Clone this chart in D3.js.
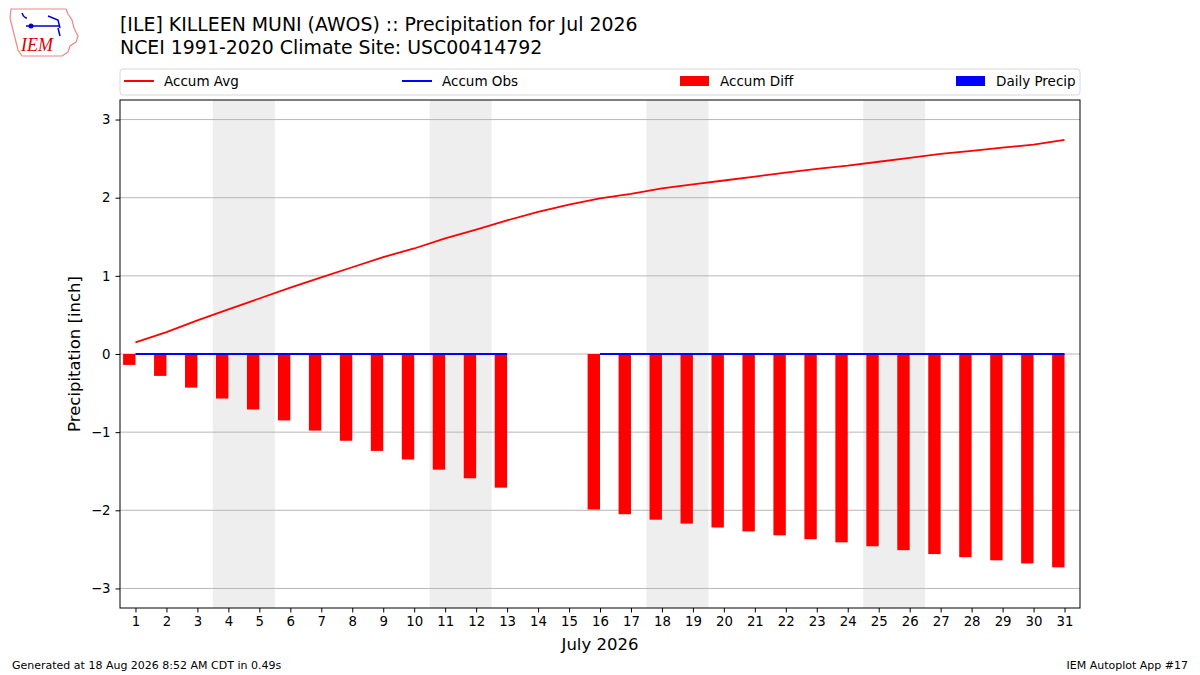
<!DOCTYPE html>
<html>
<head>
<meta charset="utf-8">
<script src="https://cdn.jsdelivr.net/npm/d3@7"></script>
<style>
  body { margin: 0; background: #fff; }
  svg { font-family: "DejaVu Sans", sans-serif; }
</style>
</head>
<body>
<svg id="chart" width="1200" height="675"></svg>
<script>
// days of July 2026
const days = d3.range(1, 32)
// accumulated climatology (inch)
const accumAvg = [0.15, 0.28, 0.43, 0.57, 0.71, 0.85, 0.98, 1.11, 1.24, 1.35,
  1.48, 1.59, 1.71, 1.82, 1.91, 1.99, 2.05, 2.12, 2.17, 2.22,
  2.27, 2.32, 2.37, 2.41, 2.46, 2.51, 2.56, 2.60, 2.64, 2.68, 2.74]
// accumulated observed (null = missing)
const accumObs = [0, 0, 0, 0, 0, 0, 0, 0, 0, 0, 0, 0, 0, null, null,
  0, 0, 0, 0, 0, 0, 0, 0, 0, 0, 0, 0, 0, 0, 0, 0]
// observed minus average
const accumDiff = [-0.14, -0.28, -0.43, -0.57, -0.71, -0.85, -0.98, -1.11, -1.24, -1.35,
  -1.48, -1.59, -1.71, null, null, -1.99, -2.05, -2.12, -2.17, -2.22,
  -2.27, -2.32, -2.37, -2.41, -2.46, -2.51, -2.56, -2.60, -2.64, -2.68, -2.73]
const dailyPrecip = [0, 0, 0, 0, 0, 0, 0, 0, 0, 0, 0, 0, 0, null, null,
  0, 0, 0, 0, 0, 0, 0, 0, 0, 0, 0, 0, 0, 0, 0, 0]
// weekend days (Sat/Sun) to shade
const weekendStarts = [4, 11, 18, 25]
const yTicks = [-3, -2, -1, 0, 1, 2, 3]

const svg = d3.select('#chart')
const m = { left: 120, right: 1080, top: 100, bottom: 608 }

const x = d3.scaleLinear().domain([0.5, 31.5]).range([m.left, m.right])
const y = d3.scaleLinear().domain([-3.25, 3.25]).range([m.bottom, m.top])

// title
svg.append('text').attr('x', 120).attr('y', 31)
  .attr('font-size', 18.9).text('[ILE] KILLEEN MUNI (AWOS) :: Precipitation for Jul 2026')
svg.append('text').attr('x', 120).attr('y', 54)
  .attr('font-size', 18.9).text('NCEI 1991-2020 Climate Site: USC00414792')

// logo (rough)
const logo = svg.append('g')
logo.append('path')
  .attr('d', 'M11,9 L66,9 L68,14 L72,20 L74,28 L78,36 L76,42 L70,46 L68,52 L62,56 L22,56 L18,50 L16,42 L14,34 L12,26 L10,18 Z')
  .attr('fill', 'none').attr('stroke', '#e88').attr('stroke-width', 1.2)
logo.append('path')
  .attr('d', 'M22,13 Q24,18 27,18 M26,26 L31,26 L60,26 M48,16 L58,20 L60,28 M58,28 L60,36')
  .attr('fill', 'none').attr('stroke', '#00c').attr('stroke-width', 1.5)
logo.append('circle').attr('cx', 31).attr('cy', 26).attr('r', 2.5).attr('fill', '#00c')
logo.append('text').attr('x', 21).attr('y', 51).attr('fill', '#d00')
  .attr('font-family', 'Liberation Serif, serif').attr('font-style', 'italic')
  .attr('font-size', 18).text('IEM')

// weekend shading
svg.append('g').selectAll('rect').data(weekendStarts).join('rect')
  .attr('x', d => x(d - 0.5)).attr('width', d => x(d + 1.5) - x(d - 0.5))
  .attr('y', m.top).attr('height', m.bottom - m.top)
  .attr('fill', '#eeeeee')

// gridlines
svg.append('g').selectAll('line').data(yTicks).join('line')
  .attr('x1', m.left).attr('x2', m.right)
  .attr('y1', d => y(d)).attr('y2', d => y(d))
  .attr('stroke', '#b0b0b0').attr('stroke-width', 0.9)

// diff bars (width 0.4 day, right edge on the day)
const barData = days.map((d, i) => ({ d, v: accumDiff[i] })).filter(o => o.v !== null)
svg.append('g').selectAll('rect').data(barData).join('rect')
  .attr('x', o => x(o.d - 0.4)).attr('width', o => x(o.d) - x(o.d - 0.4))
  .attr('y', o => y(Math.max(0, o.v))).attr('height', o => Math.abs(y(o.v) - y(0)))
  .attr('fill', 'red')

// daily precip bars
const dpData = days.map((d, i) => ({ d, v: dailyPrecip[i] })).filter(o => o.v !== null)
svg.append('g').selectAll('rect').data(dpData).join('rect')
  .attr('x', o => x(o.d)).attr('width', o => x(o.d + 0.4) - x(o.d))
  .attr('y', o => y(o.v)).attr('height', o => y(0) - y(o.v))
  .attr('fill', 'blue')

// accum avg line
const line = d3.line().defined(p => p[1] !== null).x(p => x(p[0])).y(p => y(p[1]))
svg.append('path').datum(days.map((d, i) => [d, accumAvg[i]]))
  .attr('d', line).attr('fill', 'none').attr('stroke', 'red').attr('stroke-width', 1.8)

// accum obs line
svg.append('path').datum(days.map((d, i) => [d, accumObs[i]]))
  .attr('d', line).attr('fill', 'none').attr('stroke', 'blue').attr('stroke-width', 2.2)

// axes
const fmt = d => (d < 0 ? '\u2212' + Math.abs(d) : String(d))
const yAxis = svg.append('g').attr('transform', `translate(${m.left},0)`)
  .call(d3.axisLeft(y).tickValues(yTicks).tickFormat(fmt).tickSize(4.5).tickPadding(5))
const xAxis = svg.append('g').attr('transform', `translate(0,${m.bottom})`)
  .call(d3.axisBottom(x).tickValues(days).tickFormat(d3.format('d')).tickSize(4.5).tickPadding(4))
for (const a of [yAxis, xAxis]) {
  a.select('.domain').remove()
  a.selectAll('text').attr('font-size', 13.3).attr('fill', '#000')
    .attr('font-family', 'DejaVu Sans, sans-serif')
  a.selectAll('line').attr('stroke', '#000').attr('stroke-width', 1)
}
svg.append('rect').attr('x', m.left).attr('y', m.top)
  .attr('width', m.right - m.left).attr('height', m.bottom - m.top)
  .attr('fill', 'none').attr('stroke', '#000').attr('stroke-width', 1)

// axis labels
svg.append('text').attr('transform', `translate(80,${(m.top + m.bottom) / 2}) rotate(-90)`)
  .attr('text-anchor', 'middle').attr('font-size', 16.5).text('Precipitation [inch]')
svg.append('text').attr('x', 600).attr('y', 650).attr('text-anchor', 'middle')
  .attr('font-size', 16.5).text('July 2026')

// legend
const legendItems = [
  { label: 'Accum Avg', color: 'red', kind: 'line', x: 124 },
  { label: 'Accum Obs', color: 'blue', kind: 'line', x: 402 },
  { label: 'Accum Diff', color: 'red', kind: 'rect', x: 680 },
  { label: 'Daily Precip', color: 'blue', kind: 'rect', x: 956 }
]
const lg = svg.append('g')
lg.append('rect').attr('x', 120).attr('y', 69).attr('width', 960).attr('height', 26)
  .attr('rx', 3).attr('fill', '#fff').attr('stroke', '#d8d8d8')
const li = lg.selectAll('g').data(legendItems).join('g')
li.filter(d => d.kind === 'line').append('line')
  .attr('x1', d => d.x).attr('x2', d => d.x + 30).attr('y1', 81).attr('y2', 81)
  .attr('stroke', d => d.color).attr('stroke-width', 2)
li.filter(d => d.kind === 'rect').append('rect')
  .attr('x', d => d.x).attr('y', 76).attr('width', 29).attr('height', 10)
  .attr('fill', d => d.color)
li.append('text').attr('x', d => d.x + 40).attr('y', 86).attr('font-size', 13.5)
  .text(d => d.label)

// footer
svg.append('text').attr('x', 12).attr('y', 669).attr('font-size', 11)
  .text('Generated at 18 Aug 2026 8:52 AM CDT in 0.49s')
svg.append('text').attr('x', 1188).attr('y', 669).attr('font-size', 11)
  .attr('text-anchor', 'end').text('IEM Autoplot App #17')
</script>
</body>
</html>
